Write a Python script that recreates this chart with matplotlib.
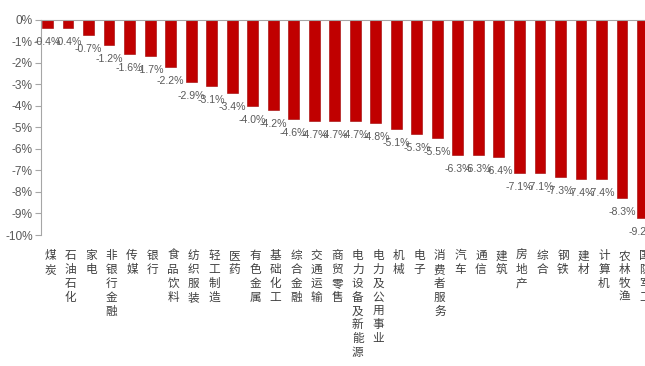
import numpy as np
import matplotlib
matplotlib.use('Agg')
import matplotlib.pyplot as plt
from matplotlib.ticker import FuncFormatter

plt.rcParams['font.family'] = ['Liberation Sans', 'Noto Sans CJK SC', 'DejaVu Sans']

# industry names (last one is cut off at the right edge in the source)
industries = ['煤炭', '石油石化', '家电', '非银行金融', '传媒', '银行', '食品饮料',
              '纺织服装', '轻工制造', '医药', '有色金属', '基础化工', '综合金融',
              '交通运输', '商贸零售', '电力设备及新能源', '电力及公用事业', '机械',
              '电子', '消费者服务', '汽车', '通信', '建筑', '房地产', '综合', '钢铁',
              '建材', '计算机', '农林牧渔', '国防军工']
# weekly change, %
change = [-0.4, -0.4, -0.7, -1.2, -1.6, -1.7, -2.2, -2.9, -3.1, -3.4, -4.0, -4.2,
          -4.6, -4.7, -4.7, -4.7, -4.8, -5.1, -5.3, -5.5, -6.3, -6.3, -6.4, -7.1,
          -7.1, -7.3, -7.4, -7.4, -8.3, -9.2]
yticks = list(range(0, -11, -1))

bar_color = '#C00000'
grey = '#595959'

fig = plt.figure(figsize=(6.45, 3.66), dpi=100)
ax = fig.add_axes([41 / 645, 131 / 366, 604 / 645, 215.5 / 366])

x = np.arange(len(industries))
bars = ax.bar(x, change, width=0.53, color=bar_color, edgecolor='#A00000', linewidth=0.4)

for xi, v in zip(x, change):
    ax.annotate(f'{v:.1f}%', xy=(xi, v), xytext=(0, -6.5), textcoords='offset points',
                ha='center', va='top', fontsize=7.6, color=grey, annotation_clip=False)

ax.set_ylim(-10, 0)
ax.set_xlim(-0.316, 29.0)
ax.set_yticks(yticks)
ax.yaxis.set_major_formatter(FuncFormatter(lambda v, p: f'{v:.0f}%'))
ax.tick_params(axis='y', direction='out', length=4, width=0.8, color='#A6A6A6',
               labelcolor=grey, labelsize=8.6, pad=2)

ax.set_xticks(x + 0.12)
ax.set_xticklabels(['\n'.join(name) for name in industries], fontsize=8.4,
                   color='#404040', linespacing=1.2)
ax.tick_params(axis='x', length=0, pad=11)

for s in ['bottom', 'right']:
    ax.spines[s].set_visible(False)
for s in ['top', 'left']:
    ax.spines[s].set_color('#A6A6A6')
    ax.spines[s].set_linewidth(0.8)

fig.savefig('out.png', dpi=100)
